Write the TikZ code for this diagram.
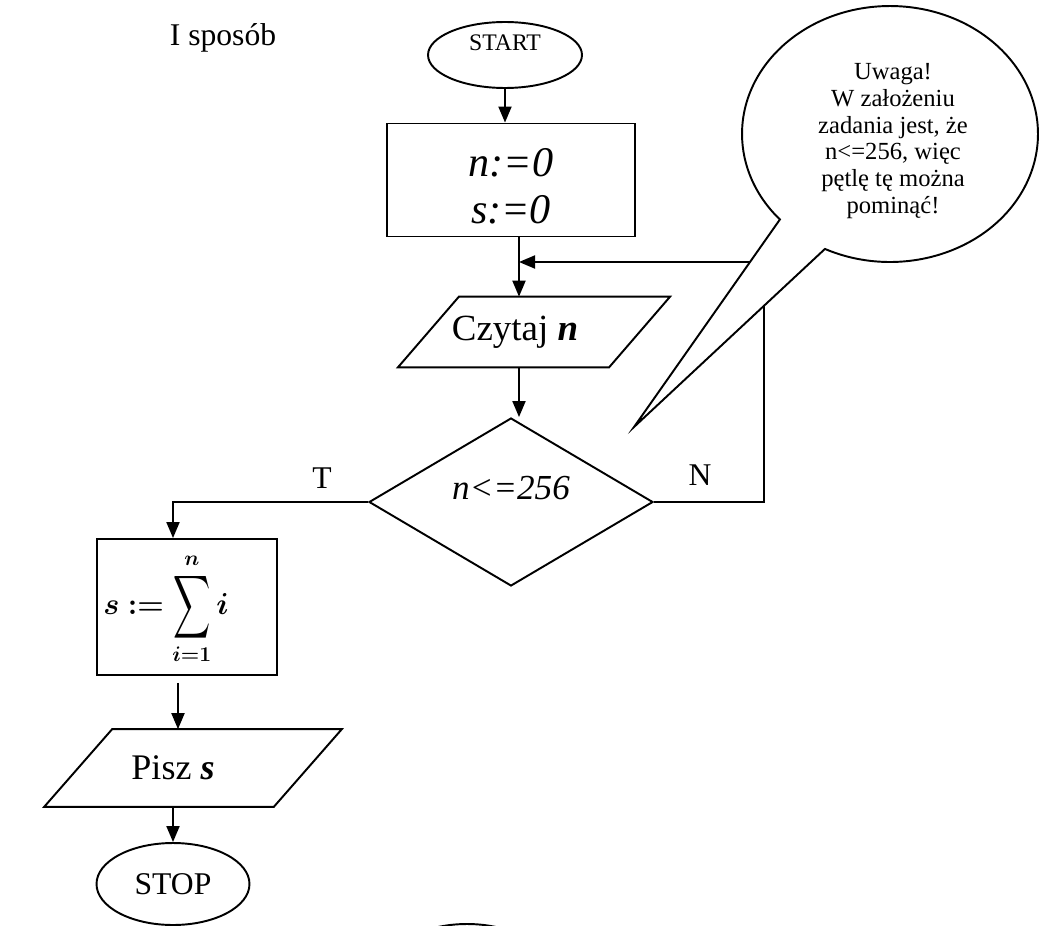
\documentclass[tikz,border=0pt]{standalone}
\usepackage{amsmath}
\usepackage{fontspec}
\setmainfont{Liberation Serif}
\usetikzlibrary{shapes.geometric,shapes.callouts,arrows.meta}

\tikzset{
  flow/.style={draw, line width=1.1pt, inner sep=0pt},
  term node/.style={flow, ellipse},
  op node/.style={flow, rectangle},
  io node/.style={rectangle, inner sep=0pt},
  test node/.style={flow, diamond},
  line/.style={line width=1.1pt, -{Triangle[length=3.2mm,width=2.6mm]}},
  branch/.style={font=\fontsize{18}{20}\selectfont}
}
\newcommand{\bigsum}{\mathop{\vcenter{\hbox{\scalebox{0.85}[1.45]{$\displaystyle\sum$}}}}\limits}

\begin{document}
\begin{tikzpicture}[x=0.02cm, y=-0.02cm]
\useasboundingbox (0,0) rectangle (1041,926);

\node[font=\fontsize{18}{20}\selectfont] (title) at (223,38) {I sposób};

\node[term node, minimum width=3.08cm, minimum height=1.32cm,
  label={[font=\fontsize{13.5}{15}\selectfont, yshift=12*0.02cm]center:START}] (start) at (505,55) {};
\node[op node, minimum width=4.96cm, minimum height=2.26cm,
  label={[align=center, font=\fontsize{24}{27}\selectfont, yshift=-6*0.02cm]center:\textit{n:=0}\\\textit{s:=0}}] (init) at (511,180) {};
\node[io node, minimum width=4.21cm, minimum height=1.4cm,
  label={[font=\fontsize{21}{24}\selectfont, xshift=-19*0.02cm]center:Czytaj \textbf{\textit{n}}}] (read) at (534,332) {};
\node[test node, minimum width=5.68cm, minimum height=3.36cm,
  label={[font=\fontsize{20}{22}\selectfont, yshift=14*0.02cm]center:\textit{n<=256}}] (cond) at (511,502) {};
\node[op node, minimum width=3.6cm, minimum height=2.72cm,
  label={[font=\fontsize{17}{20}\selectfont, xshift=-21*0.02cm, yshift=-2*0.02cm]center:$\boldsymbol{s} \mathrel{\boldsymbol{:=}} \bigsum_{\boldsymbol{i=1}}^{\boldsymbol{n}} \boldsymbol{i}$}] (sum) at (187,607) {};
\node[io node, minimum width=4.58cm, minimum height=1.54cm,
  label={[font=\fontsize{20.5}{23}\selectfont, xshift=-20*0.02cm]center:Pisz \textbf{\textit{s}}}] (write) at (193,768) {};
\node[term node, minimum width=3.06cm, minimum height=1.64cm,
  font=\fontsize{18}{20}\selectfont] (stop) at (173,884) {STOP};
\node[term node, minimum width=3.08cm, minimum height=1.64cm] (next) at (467,965) {};

% skosne boki wejscia/wyjscia
\draw[flow] ([xshift=0.61cm]read.north west) -- ([xshift=0.61cm]read.north east)
  -- ([xshift=-0.61cm]read.south east) -- ([xshift=-0.61cm]read.south west) -- cycle;
\draw[flow] ([xshift=0.68cm]write.north west) -- ([xshift=0.68cm]write.north east)
  -- ([xshift=-0.68cm]write.south east) -- ([xshift=-0.68cm]write.south west) -- cycle;

\coordinate (mainline) at (519,0);
\coordinate (back) at (764,262);
\coordinate (leftline) at (173,0);
\coordinate (midline) at (178,0);

\draw[line] (start.south) -- (init.north -| start.south);
\draw[line] (init.south -| mainline) -- (read.north -| mainline);
\draw[line] (read.south -| mainline) -- (cond.north -| mainline);
\draw[line] (cond.east) -- (cond.east -| back) -- (back) -- (back -| mainline);
\draw[line] (cond.west) -| (sum.north -| leftline);
\draw[line, shorten <=0.14cm] (sum.south -| midline) -- (write.north -| midline);
\draw[line] (write.south -| stop.north) -- (stop.north);

\node[branch] (yes) at (322,478) {T};
\node[branch] (no) at (700,475) {N};

% uwaga na boku
\node[ellipse callout, draw, fill=white, line width=1.1pt, minimum width=5.92cm,
  minimum height=5.12cm, callout absolute pointer={(634,427)}, callout pointer arc=22]
  (note) at (890,134) {};
\node[align=center, font=\fontsize{14}{15.2}\selectfont] (notetext) at (893,141)
  {Uwaga!\\W założeniu\\zadania jest, że\\n<=256, więc\\pętlę tę można\\pominąć!};
\end{tikzpicture}
\end{document}
